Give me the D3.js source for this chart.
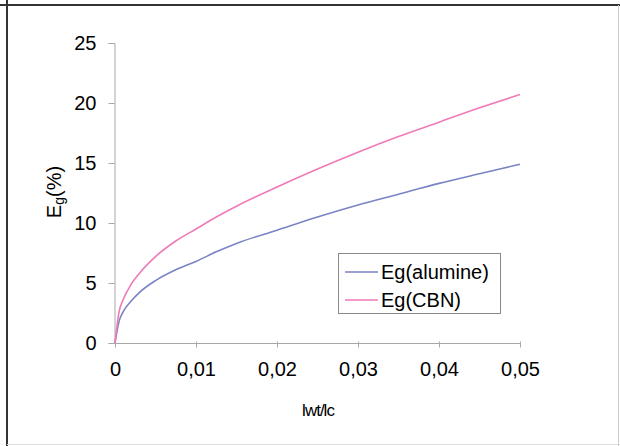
<!DOCTYPE html>
<html>
<head>
<meta charset="utf-8">
<script src="https://cdn.jsdelivr.net/npm/d3@7/dist/d3.min.js"></script>
<style>
  html, body { margin: 0; padding: 0; background: #fff; }
  svg { display: block; }
  text { font-family: "Liberation Sans", Arial, sans-serif; fill: #000; }
</style>
</head>
<body>
<svg id="chart" width="620" height="446"></svg>
<script>
// ---- data ----
const xValues = [0, 0.0005, 0.001, 0.002, 0.003, 0.005, 0.0075, 0.01, 0.0125, 0.015, 0.02, 0.025, 0.03, 0.035, 0.04, 0.045, 0.05];
const egAlumine = [0, 1.8, 2.6, 3.5, 4.2, 5.2, 6.1, 6.8, 7.6, 8.3, 9.4, 10.5, 11.5, 12.4, 13.3, 14.1, 14.9];
const egCBN     = [0, 2.6, 3.6, 4.9, 5.8, 7.2, 8.5, 9.5, 10.5, 11.4, 13.0, 14.5, 15.9, 17.2, 18.4, 19.6, 20.7];
const seriesNames = ["Eg(alumine)", "Eg(CBN)"];
const xTicks = [0, 0.01, 0.02, 0.03, 0.04, 0.05];
const xTickLabels = ["0", "0,01", "0,02", "0,03", "0,04", "0,05"];
const yTicks = [0, 5, 10, 15, 20, 25];

const colors = ["#7a83c4", "#ef7ab6"];

const svg = d3.select("#chart");

// frame
svg.append("line").attr("x1", 0).attr("x2", 620).attr("y1", 5).attr("y2", 5)
  .attr("stroke", "#333").attr("stroke-width", 2);
svg.append("line").attr("x1", 7).attr("x2", 7).attr("y1", 0).attr("y2", 446)
  .attr("stroke", "#333").attr("stroke-width", 2);
svg.append("line").attr("x1", 618.5).attr("x2", 618.5).attr("y1", 5).attr("y2", 446)
  .attr("stroke", "#ccc").attr("stroke-width", 1);
svg.append("line").attr("x1", 7).attr("x2", 620).attr("y1", 444.5).attr("y2", 444.5)
  .attr("stroke", "#ddd").attr("stroke-width", 1);

const x = d3.scaleLinear().domain([0, 0.05]).range([115, 520]);
const y = d3.scaleLinear().domain([0, 25]).range([343, 43]);

// y axis
const yAxis = svg.append("g").attr("transform", "translate(114.5,0)")
  .call(d3.axisLeft(y).tickValues(yTicks).tickSize(6).tickPadding(12).tickFormat(d3.format("d")));
yAxis.select(".domain").attr("stroke", "#a8a8a8");
yAxis.selectAll(".tick line").attr("stroke", "#a8a8a8");
yAxis.selectAll(".tick text").attr("font-size", 20).attr("font-family", "Liberation Sans, Arial, sans-serif").attr("fill", "#000");

// x axis
const xAxis = svg.append("g").attr("transform", "translate(0,343.5)")
  .call(d3.axisBottom(x).tickValues(xTicks).tickSize(4).tickPadding(14)
    .tickFormat((d, i) => xTickLabels[i]));
xAxis.select(".domain").attr("stroke", "#a8a8a8").attr("d", `M${x(0)},0H${x(0.05)}`);
xAxis.selectAll(".tick line").attr("stroke", "#a8a8a8").attr("y1", -2);
xAxis.selectAll(".tick text").attr("font-size", 20).attr("font-family", "Liberation Sans, Arial, sans-serif").attr("fill", "#000");

// lines
const line = d3.line().x((d, i) => x(xValues[i])).y(d => y(d)).curve(d3.curveMonotoneX);
[egAlumine, egCBN].forEach((s, k) => {
  svg.append("path").datum(s).attr("d", line)
    .attr("fill", "none").attr("stroke", colors[k]).attr("stroke-width", 1.6);
});

// y label
const yl = svg.append("text").attr("transform", "translate(61,192) rotate(-90)")
  .attr("text-anchor", "middle").attr("font-size", 20);
yl.append("tspan").text("E");
yl.append("tspan").text("g").attr("font-size", 14).attr("dy", 3);
yl.append("tspan").text("(%)").attr("dy", -3);

// x label
svg.append("text").attr("x", 318).attr("y", 416)
  .attr("text-anchor", "middle").attr("font-size", 17).attr("letter-spacing", -1)
  .text("lwt/lc");

// legend
const lg = svg.append("g");
lg.append("rect").attr("x", 338.5).attr("y", 253.5).attr("width", 162).attr("height", 60)
  .attr("fill", "#fff").attr("stroke", "#8a8a8a").attr("stroke-width", 1);
seriesNames.forEach((name, k) => {
  const cy = 272 + k * 28;
  lg.append("line").attr("x1", 345).attr("x2", 378).attr("y1", cy).attr("y2", cy)
    .attr("stroke", colors[k]).attr("stroke-width", 1.6);
  lg.append("text").attr("x", 381).attr("y", cy + 7).attr("font-size", 20).text(name);
});
</script>
</body>
</html>
